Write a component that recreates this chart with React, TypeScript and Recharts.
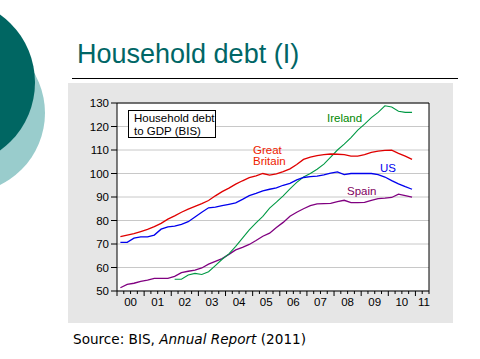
import React from "react"
import { LineChart, Line, XAxis, YAxis, CartesianGrid, ReferenceLine } from "recharts"

// quarterly observations, 2000Q1 .. 2010Q4 (placed at mid-quarter)
const quarters: number[] = Array.from({ length: 44 }, (_, i) => 2000.125 + i * 0.25)

const greatBritain = [
  73.1, 73.8, 74.4, 75.3, 76.2, 77.4, 78.8, 80.6, 82.0, 83.5, 84.8, 86.0,
  87.2, 88.5, 90.5, 92.3, 93.8, 95.5, 96.9, 98.2, 99.0, 100.0, 99.3, 99.8,
  100.8, 102.0, 103.8, 106.0, 107.0, 107.6, 108.0, 108.3, 108.2, 108.0, 107.4, 107.4,
  108.0, 109.0, 109.5, 109.8, 109.9, 108.6, 107.4, 106.0,
]
const us = [
  70.7, 70.7, 72.5, 73.0, 73.0, 73.8, 76.3, 77.3, 77.6, 78.4, 79.5, 81.5,
  83.5, 85.4, 85.7, 86.3, 86.9, 87.5, 89.0, 90.6, 91.5, 92.6, 93.3, 93.9,
  95.0, 95.8, 97.3, 98.3, 98.7, 98.9, 99.4, 100.2, 100.7, 99.5, 100.0, 100.0,
  100.0, 100.0, 99.5, 98.5, 97.0, 95.6, 94.4, 93.3,
]
const spain = [
  51.4, 52.8, 53.3, 54.1, 54.6, 55.4, 55.4, 55.4, 56.2, 57.8, 58.4, 58.9,
  59.8, 61.4, 62.6, 63.8, 65.6, 67.5, 68.6, 69.8, 71.5, 73.3, 74.6, 77.0,
  79.2, 81.8, 83.5, 85.0, 86.3, 87.1, 87.2, 87.3, 88.0, 88.6, 87.6, 87.6,
  87.7, 88.6, 89.3, 89.5, 89.8, 91.2, 90.6, 89.9,
]
const ireland = [
  null, null, null, null, null, null, null, null, 55.0, 55.0, 56.8, 57.5,
  57.0, 58.2, 60.8, 63.5, 65.8, 69.0, 72.5, 76.0, 79.0, 81.8, 85.3, 87.8,
  90.5, 93.5, 96.2, 98.5, 100.0, 101.8, 104.0, 107.0, 110.0, 112.5, 115.3, 118.5,
  121.0, 123.8, 126.0, 128.8, 128.3, 126.5, 126.0, 126.0,
]

const yTicks = [50, 60, 70, 80, 90, 100, 110, 120, 130]
const xTicks: number[] = Array.from({ length: 47 }, (_, i) => 2000 + i * 0.25)

const data = quarters.map((t, i) => ({
  t,
  gb: greatBritain[i],
  us: us[i],
  spain: spain[i],
  ireland: ireland[i],
}))

const font = "'Liberation Sans', Arial, sans-serif"

function YearTick(props: any) {
  const { x, y, payload } = props
  const v = payload.value as number
  const frac = v - Math.floor(v)
  const isYear = Math.abs(frac) < 1e-6
  const isMid = Math.abs(frac - 0.5) < 1e-6
  const yr = String(Math.floor(v) % 100).padStart(2, "0")
  const last = v >= 2011.5
  return (
    <g>
      <line x1={x} x2={x} y1={y} y2={y + (isYear ? 5 : 3)} stroke="#000" />
      {isMid && (
        <text x={last ? x - 5 : x} y={y + 15} textAnchor="middle" fontSize={11.5} fontFamily={font} fill="#000">
          {yr}
        </text>
      )}
    </g>
  )
}

const label = (color: string): React.CSSProperties => ({
  position: "absolute",
  color,
  fontFamily: font,
  fontSize: 11.5,
  lineHeight: "11px",
  whiteSpace: "nowrap",
})

export default function App() {
  return (
    <div style={{ position: "fixed", left: 0, top: 0, width: 480, height: 359, background: "#fff", overflow: "hidden" }}>
      <div style={{ position: "absolute", left: -115, top: 33, width: 160, height: 160, borderRadius: "50%", background: "#99cccc" }} />
      <div style={{ position: "absolute", left: -132, top: -1, width: 167, height: 167, borderRadius: "50%", background: "#006662" }} />

      <div style={{ position: "absolute", left: 77, top: 39, fontFamily: font, fontSize: 27, color: "#006666", whiteSpace: "nowrap" }}>
        Household debt (I)
      </div>
      <div style={{ position: "absolute", left: 72, top: 78, width: 386, height: 1, background: "#000" }} />

      <div style={{ position: "absolute", left: 68, top: 83, width: 385, height: 240, background: "#e6e6e6" }} />
      <div style={{ position: "absolute", left: 117, top: 103, width: 312, height: 188, background: "#fff" }} />

      <div style={{ position: "absolute", left: 0, top: 0 }}>
        <LineChart width={480} height={359} data={data} margin={{ top: 103, right: 51, bottom: 38, left: 77 }}>
          <CartesianGrid horizontal vertical={false} stroke="#c8c8c8" />
          <XAxis
            dataKey="t"
            type="number"
            domain={[2000, 2011.5]}
            ticks={xTicks}
            interval={0}
            height={30}
            tickSize={0}
            tickMargin={0}
            tickLine={false}
            axisLine={{ stroke: "#000" }}
            tick={<YearTick />}
          />
          <YAxis
            domain={[50, 130]}
            ticks={yTicks}
            interval={0}
            width={40}
            tickSize={6}
            tickMargin={2}
            axisLine={{ stroke: "#000" }}
            tickLine={{ stroke: "#000" }}
            tick={{ fill: "#000", fontSize: 11.5, fontFamily: font }}
          />
          <ReferenceLine y={130} stroke="#000" />
          <ReferenceLine x={2011.5} stroke="#000" />
          <Line dataKey="spain" stroke="#800080" strokeWidth={1.3} dot={false} isAnimationActive={false} />
          <Line dataKey="ireland" stroke="#009944" strokeWidth={1.1} dot={false} isAnimationActive={false} />
          <Line dataKey="us" stroke="#0000ee" strokeWidth={1.3} dot={false} isAnimationActive={false} />
          <Line dataKey="gb" stroke="#e00000" strokeWidth={1.3} dot={false} isAnimationActive={false} />
        </LineChart>
      </div>

      <div
        style={{
          position: "absolute", left: 128, top: 110, width: 88, height: 28, border: "1px solid #000", background: "#fff",
          fontFamily: font, fontSize: 11.5, lineHeight: "13px", color: "#000", boxSizing: "border-box", padding: "1px 0 0 5px",
        }}
      >
        Household debt<br />to GDP (BIS)
      </div>

      <div style={{ ...label("#008800"), left: 327, top: 113 }}>Ireland</div>
      <div style={{ ...label("#ee2200"), left: 253, top: 145 }}>Great<br />Britain</div>
      <div style={{ ...label("#0000ee"), left: 380, top: 163 }}>US</div>
      <div style={{ ...label("#800060"), left: 347, top: 186 }}>Spain</div>

      <div style={{ position: "absolute", left: 73, top: 331, fontFamily: "'DejaVu Sans', Verdana, sans-serif", fontSize: 13.6, color: "#000", whiteSpace: "nowrap" }}>
        Source: BIS, <i>Annual Report</i> (2011)
      </div>
    </div>
  )
}
